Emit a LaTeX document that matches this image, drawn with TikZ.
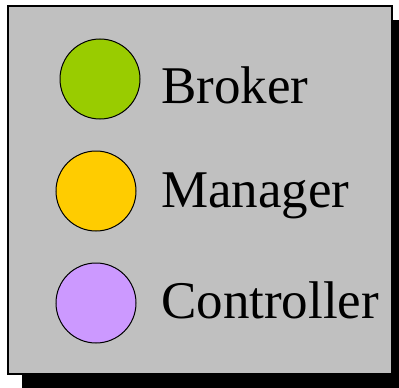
\documentclass[tikz,border=0pt]{standalone}
\usepackage{fontspec}
\setmainfont{Liberation Serif}
\usepackage{tikz}
\usetikzlibrary{positioning}
\definecolor{panel}{HTML}{C0C0C0}
\definecolor{broker}{HTML}{99CC00}
\definecolor{manager}{HTML}{FFCC00}
\definecolor{controller}{HTML}{CC99FF}

\begin{document}
\begin{tikzpicture}[
  x=1pt, y=-1pt,
  frame/.style  = {rectangle, draw=black, line width=1.2pt, fill=panel,
                   minimum width=384pt, minimum height=368pt, inner sep=0pt},
  shadow/.style = {rectangle, fill=black, minimum width=377pt,
                   minimum height=368pt, inner sep=0pt},
  dot/.style    = {circle, draw=black, line width=1pt,
                   minimum size=80pt, inner sep=0pt},
  lbl/.style    = {anchor=base west, inner sep=0pt,
                   font=\fontsize{53}{60}\selectfont},
]
  \useasboundingbox (0,0) rectangle (399,388);

  % Frame and shadow
  \node[shadow] (shd) at (210.5,204) {};
  \node[frame] (legend) at (200,190) {};

  % Entries
  \node[dot, fill=broker]     (bk) at (100,79)  {};
  \node[dot, fill=manager]    (mg) at (96,191)  {};
  \node[dot, fill=controller] (ct) at (96,303)  {};

  \node[lbl] (bklbl) at (161,103) {Broker};
  \node[lbl] (mglbl) at (161,207) {Manager};
  \node[lbl] (ctlbl) at (161,318) {Controller};
\end{tikzpicture}
\end{document}
